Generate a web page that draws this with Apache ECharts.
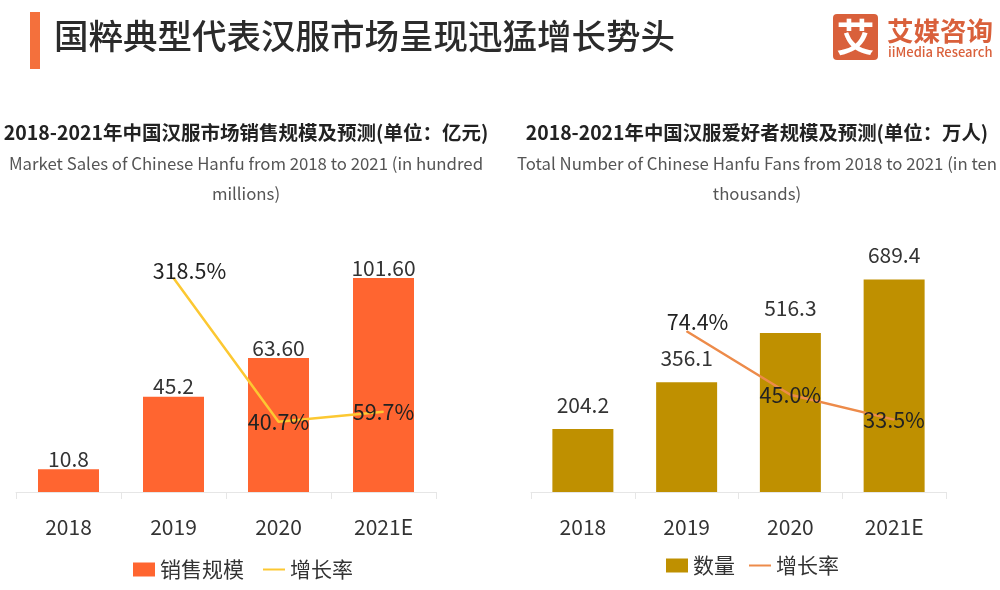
<!DOCTYPE html>
<html>
<head>
<meta charset="utf-8">
<title>国粹典型代表汉服市场呈现迅猛增长势头</title>
<style>
    html, body { margin: 0; padding: 0; background: #fff; }
    #chart { width: 1000px; height: 590px; }
</style>
<script src="https://cdn.jsdelivr.net/npm/echarts@6/dist/echarts.min.js"></script>
</head>
<body>
<div id="chart"></div>
<script>
const years = ['2018', '2019', '2020', '2021E']

const salesValues = [10.8, 45.2, 63.6, 101.6]
const salesLabels = ['10.8', '45.2', '63.60', '101.60']
const salesGrowth = [null, 318.5, 40.7, 59.7]

const fanValues = [204.2, 356.1, 516.3, 689.4]
const fanLabels = ['204.2', '356.1', '516.3', '689.4']
const fanGrowth = [null, 74.4, 45.0, 33.5]

const FONT = '"Noto Sans CJK SC", "Noto Sans", sans-serif'
const TEXT = '#333'

const titleBlock = (x, cn, en1, en2, cnSize, enSize) => [
    { text: cn, left: x, top: 118, textAlign: 'center',
      textStyle: { fontFamily: FONT, fontSize: cnSize, fontWeight: 'bold', color: '#222' } },
    { text: en1, left: x, top: 150, textAlign: 'center',
      textStyle: { fontFamily: FONT, fontSize: enSize, fontWeight: 'normal', color: '#555' } },
    { text: en2, left: x, top: 180, textAlign: 'center',
      textStyle: { fontFamily: FONT, fontSize: enSize, fontWeight: 'normal', color: '#555' } }
]

const xAxisFor = (gridIndex) => ({
    type: 'category',
    gridIndex,
    data: years,
    axisLine: { lineStyle: { color: '#e6e6e6', width: 1 } },
    axisTick: { show: true, length: 7, lineStyle: { color: '#e6e6e6' } },
    axisLabel: { fontFamily: FONT, fontSize: 21, color: TEXT, margin: 25 }
})

const yAxisFor = (gridIndex, min, max) => ({
    type: 'value', gridIndex, min, max, show: false, splitLine: { show: false }
})

const barFor = (name, axisIndex, values, labels, color, distance) => ({
    name,
    type: 'bar',
    xAxisIndex: axisIndex,
    yAxisIndex: axisIndex * 2,
    data: values,
    barWidth: 61,
    itemStyle: { color },
    label: {
        show: true,
        position: 'top',
        distance,
        fontFamily: FONT,
        fontSize: 21,
        color: TEXT,
        formatter: (p) => labels[p.dataIndex]
    }
})

// the points keep a tiny symbol, without one the labels are not drawn
const lineFor = (name, axisIndex, values, color, firstOffset) => ({
    name,
    type: 'line',
    xAxisIndex: axisIndex,
    yAxisIndex: axisIndex * 2 + 1,
    z: 5,
    symbol: 'none',
    lineStyle: { color, width: 2.5 },
    itemStyle: { color },
    data: values.map((v, i) => ({
        value: v,
        symbol: 'circle',
        symbolSize: 1,
        label: { offset: i === 1 ? firstOffset : [0, 0] }
    })),
    label: {
        show: true,
        position: 'inside',
        fontFamily: FONT,
        fontSize: 21.5,
        color: '#222',
        formatter: (p) => p.value.toFixed(1) + '%'
    }
})

const legendFor = (left, top, barName, lineName, gap) => ({
    left,
    top,
    data: [
        { name: barName, icon: 'rect' },
        { name: lineName, itemStyle: { opacity: 0 } }
    ],
    itemWidth: 22,
    itemHeight: 14,
    itemGap: gap,
    textStyle: { fontFamily: FONT, fontSize: 21, color: TEXT }
})

const myChart = echarts.init(document.getElementById('chart'))

myChart.setOption({
    animation: false,
    backgroundColor: '#fff',
    title: [
        { text: '国粹典型代表汉服市场呈现迅猛增长势头', left: 49, top: 14,
          textStyle: { fontFamily: FONT, fontSize: 34.5, fontWeight: 500, color: '#2b2b2b' } },
        ...titleBlock(241, '2018-2021年中国汉服市场销售规模及预测(单位：亿元)',
            'Market Sales of Chinese Hanfu from 2018 to 2021 (in hundred', 'millions)', 19.5, 16.8),
        ...titleBlock(752, '2018-2021年中国汉服爱好者规模及预测(单位：万人)',
            'Total Number of Chinese Hanfu Fans from 2018 to 2021 (in ten', 'thousands)', 19.4, 16.8)
    ],
    grid: [
        { left: 16, width: 420, top: 239.3, height: 252.7 },
        { left: 531, width: 415, top: 239.3, height: 252.7 }
    ],
    xAxis: [xAxisFor(0), xAxisFor(1)],
    yAxis: [
        yAxisFor(0, 0, 120),
        yAxisFor(0, -95.4, 393.4),
        yAxisFor(1, 0, 820),
        yAxisFor(1, 0, 117)
    ],
    legend: [
        legendFor(128, 554, '销售规模', '增长率', 18),
        legendFor(661, 550, '数量', '增长率 ', 13)
    ],
    series: [
        barFor('销售规模', 0, salesValues, salesLabels, '#ff6530', 0),
        lineFor('增长率', 0, salesGrowth, '#fcc832', [16, -7]),
        barFor('数量', 1, fanValues, fanLabels, '#bf9000', 14),
        lineFor('增长率 ', 1, fanGrowth, '#ed8b4a', [11, -9])
    ],
    graphic: [
        { type: 'rect', shape: { x: 30, y: 12, width: 10, height: 57 }, style: { fill: '#f4703c' } },
        { type: 'rect', shape: { x: 833, y: 14, width: 45, height: 46, r: 4 }, style: { fill: '#d9603b' } },
        { type: 'text', x: 855.5, y: 37, style: { text: '艾', fill: '#fff', font: '700 38px ' + FONT, align: 'center', verticalAlign: 'middle' } },
        { type: 'text', x: 887, y: 31, style: { text: '艾媒咨询', fill: '#d9603b', font: '700 26.5px ' + FONT, verticalAlign: 'middle' } },
        { type: 'text', x: 888, y: 52, style: { text: 'iiMedia Research', fill: '#d9603b', font: '500 13px ' + FONT, verticalAlign: 'middle' } }
    ]
})
</script>
</body>
</html>
